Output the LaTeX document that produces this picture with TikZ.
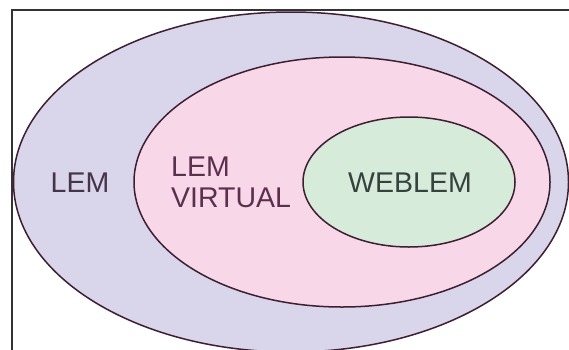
\documentclass[tikz,border=0pt]{standalone}
\usepackage{fontspec}
\setmainfont{Liberation Sans}
\usetikzlibrary{shapes.geometric}
\definecolor{outerfill}{HTML}{D9D5EA}
\definecolor{midfill}{HTML}{F8D8E8}
\definecolor{innerfill}{HTML}{D7EBDA}
\definecolor{ringline}{HTML}{3E1F30}
\definecolor{txtlem}{HTML}{45344A}
\definecolor{txtvirt}{HTML}{5A304E}
\definecolor{txtweb}{HTML}{36423D}
\tikzset{
  ring/.style={ellipse, draw=ringline, line width=1.5pt, inner sep=0pt},
  lbl/.style={font=\fontsize{28.5}{31}\selectfont, inner sep=0pt},
}
\begin{document}
\begin{tikzpicture}[x=1pt,y=-1pt]
\useasboundingbox (0,0) rectangle (569,349);
\clip (0,0) rectangle (569,349);
\fill[white] (0,0) rectangle (569,349);
\draw[line width=1.5pt, color=black!80] (12,352) -- (12,10) -- (572,10);
\node[ring, fill=outerfill, minimum width=555pt, minimum height=340pt] (outer) at (291,182) {};
\node[ring, fill=midfill, minimum width=416pt, minimum height=250pt] (mid) at (342,182) {};
\node[ring, fill=innerfill, minimum width=212pt, minimum height=130pt] (inner) at (409,182) {};
\node[lbl, text=txtlem] (lem) at (80,183) {LEM};
\node[lbl, text=txtvirt, align=left, anchor=west] (virt) at (171,182) {LEM\\VIRTUAL};
\node[lbl, text=txtweb] (web) at (410,183) {WEBLEM};
\end{tikzpicture}
\end{document}
